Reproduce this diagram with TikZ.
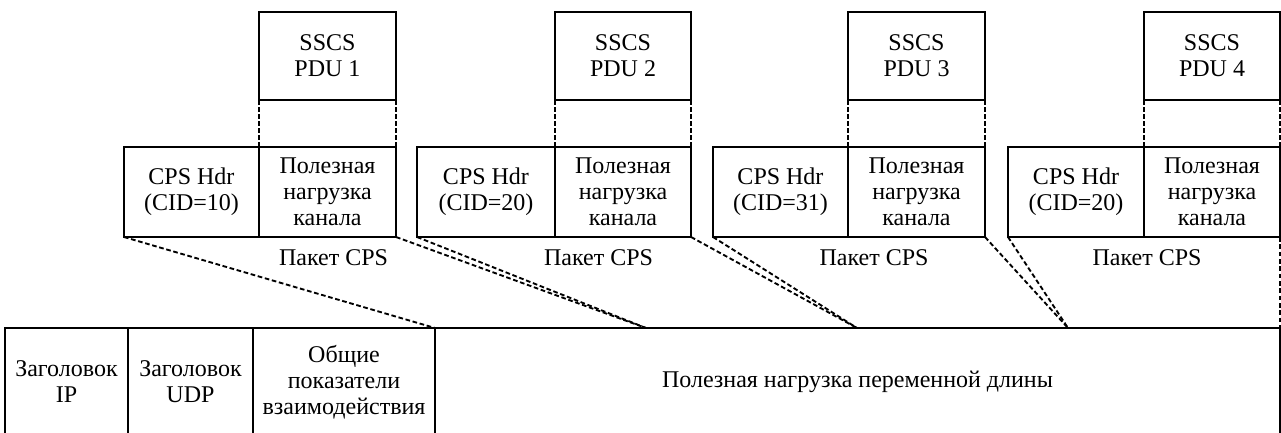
\documentclass[tikz,border=0pt]{standalone}
\usepackage{fontspec}
\setmainfont{Liberation Serif}
\begin{document}
\begin{tikzpicture}[x=0.75pt,y=-0.75pt,
  txt/.style={font=\fontsize{18}{19.5}\selectfont},
  cell/.style={draw, line width=1.7pt, inner sep=0pt, outer sep=0pt, align=center, anchor=north west, txt},
  sz/.style 2 args={minimum width=#1*0.75pt, minimum height=#2*0.75pt},
  lbl/.style={inner sep=0pt, txt},
  link/.style={line width=1.4pt, dash pattern=on 3.5pt off 2pt},
  vlink/.style={line width=1.4pt, dash pattern=on 3.75pt off 1.5pt},
]
\path[use as bounding box, clip] (0,0) rectangle (1281,432);

% SSCS PDUs
\node[cell, sz={137}{88}] (s1) at (259,12) {SSCS\\PDU 1};
\node[cell, sz={136}{88}] (s2) at (555,12) {SSCS\\PDU 2};
\node[cell, sz={137}{88}] (s3) at (848,12) {SSCS\\PDU 3};
\node[cell, sz={136}{88}] (s4) at (1144,12) {SSCS\\PDU 4};

% CPS packets
\node[cell, sz={135}{90}] (h1) at (124,147) {CPS Hdr\\(CID=10)};
\node[cell, sz={137}{90}] (p1) at (259,147) {Полезная\\нагрузка\\канала};
\node[cell, sz={138}{90}] (h2) at (417,147) {CPS Hdr\\(CID=20)};
\node[cell, sz={136}{90}] (p2) at (555,147) {Полезная\\нагрузка\\канала};
\node[cell, sz={135}{90}] (h3) at (713,147) {CPS Hdr\\(CID=31)};
\node[cell, sz={137}{90}] (p3) at (848,147) {Полезная\\нагрузка\\канала};
\node[cell, sz={136}{90}] (h4) at (1008,147) {CPS Hdr\\(CID=20)};
\node[cell, sz={136}{90}] (p4) at (1144,147) {Полезная\\нагрузка\\канала};

\node[lbl] (k1) at (333.5,258) {Пакет CPS};
\node[lbl] (k2) at (598.5,258) {Пакет CPS};
\node[lbl] (k3) at (874,258) {Пакет CPS};
\node[lbl] (k4) at (1147,258) {Пакет CPS};

% bottom frame
\node[cell, sz={123}{108}] (ip) at (5,328) {Заголовок\\IP};
\node[cell, sz={125}{108}] (udp) at (128,328) {Заголовок\\UDP};
\node[cell, sz={182}{108}] (com) at (253,328) {Общие\\показатели\\взаимодействия};
\node[cell, sz={845}{108}] (pay) at (435,328) {Полезная нагрузка переменной длины};

\coordinate (c2) at (646,328);
\coordinate (c3) at (857,328);
\coordinate (c4) at (1068,328);

% vertical dashed links
\foreach \i in {1,2,3,4}{
  \draw[vlink] (s\i.south west) -- (p\i.north west);
  \draw[vlink] (s\i.south east) -- (p\i.north east);
}

% slanted dashed links
\draw[link] (h1.south west) -- (pay.north west);
\draw[link] (p1.south east) -- (c2);
\draw[link] (h2.south west) -- (c2);
\draw[link] (p2.south east) -- (c3);
\draw[link] (h3.south west) -- (c3);
\draw[link] (p3.south east) -- (c4);
\draw[link] (h4.south west) -- (c4);
\draw[link] (p4.south east) -- (pay.north east);
\end{tikzpicture}
\end{document}
